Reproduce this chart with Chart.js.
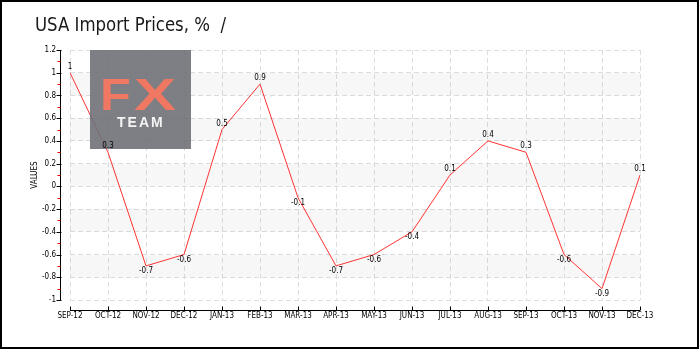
<!DOCTYPE html>
<html>
<head>
<meta charset="utf-8">
<script src="https://cdn.jsdelivr.net/npm/chart.js@4/dist/chart.umd.min.js"></script>
<style>
  html, body { margin: 0; padding: 0; background: #fff; }
  canvas { display: block; }
</style>
</head>
<body>
<canvas id="c" width="700" height="350"></canvas>
<script>
const categories = ["SEP-12","OCT-12","NOV-12","DEC-12","JAN-13","FEB-13","MAR-13","APR-13","MAY-13","JUN-13","JUL-13","AUG-13","SEP-13","OCT-13","NOV-13","DEC-13"];
const importPrices = [1, 0.3, -0.7, -0.6, 0.5, 0.9, -0.1, -0.7, -0.6, -0.4, 0.1, 0.4, 0.3, -0.6, -0.9, 0.1];
const yTickValues = [-1, -0.8, -0.6, -0.4, -0.2, 0, 0.2, 0.4, 0.6, 0.8, 1, 1.2];
const yMinorValues = [-0.9, -0.7, -0.5, -0.3, -0.1, 0.1, 0.3, 0.5, 0.7, 0.9, 1.1];
const bandRanges = [[0.8, 1.0], [0.4, 0.6], [0, 0.2], [-0.4, -0.2], [-0.8, -0.6]];
const titleText = "USA Import Prices, %  /";

const smallFont = "'DejaVu Sans Condensed', sans-serif";

const decor = {
  id: 'decor',
  beforeDatasetsDraw(chart) {
    const {ctx, chartArea} = chart;
    const y = chart.scales.y;
    ctx.save();
    ctx.fillStyle = 'rgba(0,0,0,0.032)';
    bandRanges.forEach(([a, b]) => {
      const y1 = y.getPixelForValue(b), y2 = y.getPixelForValue(a);
      ctx.fillRect(chartArea.left, y1, chartArea.right - chartArea.left, y2 - y1);
    });
    ctx.restore();
  },
  afterDatasetsDraw(chart) {
    const {ctx} = chart;
    // watermark logo
    ctx.save();
    ctx.fillStyle = 'rgba(112,112,120,0.9)';
    ctx.fillRect(90, 50, 101, 99);
    ctx.fillStyle = '#f07762';
    ctx.font = "bold 45px 'Liberation Sans', Arial, sans-serif";
    ctx.textBaseline = 'alphabetic';
    ctx.save();
    ctx.translate(100, 110);
    ctx.scale(1.12, 1);
    ctx.fillText('F', 0, 0);
    ctx.restore();
    ctx.save();
    ctx.translate(134, 110);
    ctx.scale(1.4, 1);
    ctx.fillText('X', 0, 0);
    ctx.restore();
    ctx.fillStyle = '#f4f4f4';
    ctx.font = "bold 14px 'Liberation Sans', Arial, sans-serif";
    ctx.textAlign = 'left';
    ctx.letterSpacing = '2px';
    ctx.fillText('TEAM', 117, 127);
    ctx.restore();

    // data labels
    const meta = chart.getDatasetMeta(0);
    ctx.save();
    ctx.font = "8px " + smallFont;
    ctx.fillStyle = '#000';
    ctx.textAlign = 'center';
    ctx.textBaseline = 'middle';
    meta.data.forEach((pt, i) => {
      const v = importPrices[i];
      const ty = v >= 0 ? pt.y - 6 : pt.y + 5;
      ctx.fillText(String(v), pt.x, ty);
    });
    ctx.restore();
  },
  afterDraw(chart) {
    const {ctx, chartArea} = chart;
    const x = chart.scales.x, y = chart.scales.y;
    ctx.save();
    // y axis line
    const ax = chartArea.left - 10 + 0.5;
    ctx.strokeStyle = '#000';
    ctx.lineWidth = 1;
    ctx.beginPath();
    ctx.moveTo(ax, y.getPixelForValue(1.2));
    ctx.lineTo(ax, y.getPixelForValue(-1));
    ctx.stroke();
    yTickValues.forEach(v => {
      const py = Math.round(y.getPixelForValue(v)) + 0.5;
      ctx.beginPath();
      ctx.moveTo(ax - 4, py);
      ctx.lineTo(ax + 1, py);
      ctx.stroke();
    });
    ctx.strokeStyle = '#e00000';
    yMinorValues.forEach(v => {
      const py = Math.round(y.getPixelForValue(v)) + 0.5;
      ctx.beginPath();
      ctx.moveTo(ax - 3, py);
      ctx.lineTo(ax, py);
      ctx.stroke();
    });
    // x axis line
    const ay = chartArea.bottom + 10 + 0.5;
    ctx.strokeStyle = '#000';
    ctx.beginPath();
    ctx.moveTo(x.getPixelForValue(0), ay);
    ctx.lineTo(x.getPixelForValue(categories.length - 1), ay);
    ctx.stroke();
    categories.forEach((c, i) => {
      const px = Math.round(x.getPixelForValue(i)) + 0.5;
      ctx.beginPath();
      ctx.moveTo(px, ay - 4);
      ctx.lineTo(px, ay);
      ctx.stroke();
    });
    // title
    ctx.fillStyle = '#1a1a1a';
    ctx.font = "20px 'DejaVu Sans Condensed', sans-serif";
    ctx.textAlign = 'left';
    ctx.textBaseline = 'alphabetic';
    ctx.save();
    ctx.translate(35, 31);
    ctx.scale(0.92, 1);
    ctx.fillText(titleText, 0, 0);
    ctx.restore();
    // outer border
    ctx.strokeStyle = '#000';
    ctx.lineWidth = 2;
    ctx.strokeRect(1, 1, 697, 347);
    ctx.restore();
  }
};

new Chart(document.getElementById('c'), {
  type: 'line',
  data: {
    labels: categories,
    datasets: [{
      data: importPrices,
      borderColor: '#ff3333',
      borderWidth: 1,
      pointRadius: 0,
      tension: 0,
      fill: false
    }]
  },
  plugins: [decor],
  options: {
    responsive: false,
    animation: false,
    devicePixelRatio: 1,
    layout: { padding: { left: 30, right: 60, top: 50, bottom: 20 } },
    plugins: { legend: { display: false }, tooltip: { enabled: false }, title: { display: false } },
    scales: {
      x: {
        type: 'category',
        offset: false,
        afterFit(s) { s.height = 30; },
        grid: { color: '#dedede', drawTicks: false },
        border: { display: false, dash: [5, 3] },
        ticks: { color: '#000', font: { size: 8, family: smallFont }, padding: 11, maxRotation: 0, autoSkip: false }
      },
      y: {
        min: -1,
        max: 1.2,
        afterFit(s) { s.width = 40; },
        afterBuildTicks(s) { s.ticks = yTickValues.map(v => ({ value: v })); },
        grid: { color: '#dedede', drawTicks: false },
        border: { display: false, dash: [5, 3] },
        ticks: { color: '#000', font: { size: 8, family: smallFont }, padding: 14, callback: v => String(v) },
        title: { display: true, text: 'VALUES', color: '#000', font: { size: 8, family: smallFont }, padding: 0 }
      }
    }
  }
});
</script>
</body>
</html>
